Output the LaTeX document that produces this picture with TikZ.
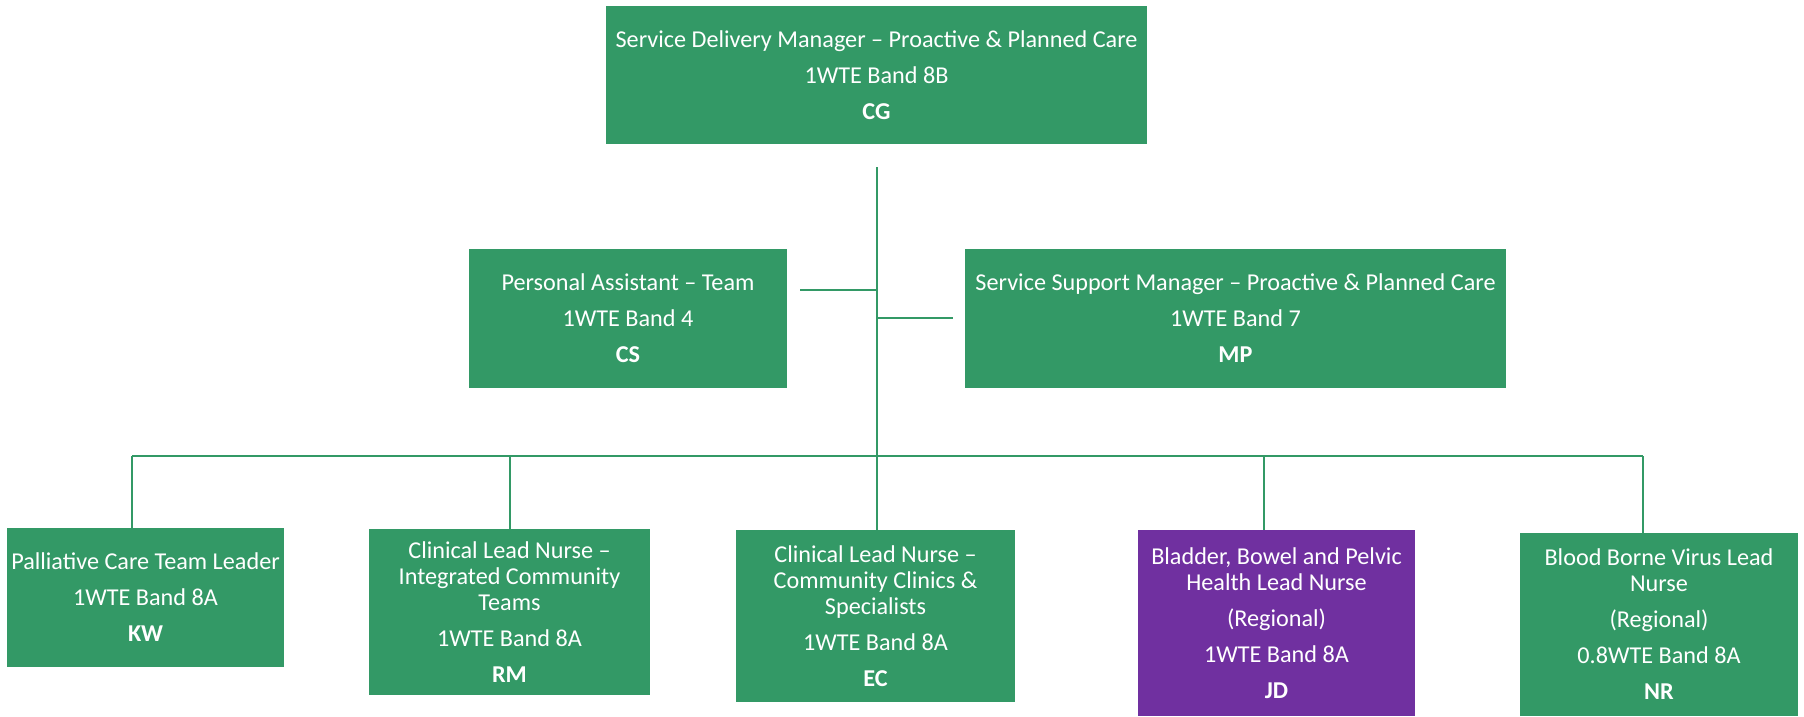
\documentclass[tikz,border=0pt]{standalone}
\usepackage{fontspec}
\setmainfont{Carlito}
\usepackage{tikz}
\definecolor{orggreen}{HTML}{339966}
\definecolor{orgpurple}{HTML}{7030A0}

\begin{document}
\begin{tikzpicture}[x=0.5pt, y=-0.5pt,
    post/.style={fill=orggreen, text=white, align=center, inner sep=0pt,
      font=\fontsize{12.1}{13}\selectfont},
    link/.style={draw=orggreen, line width=1pt}]
\useasboundingbox (0,0) rectangle (1804,717);
\node[post, minimum width=270.5pt, minimum height=69pt] (sdm) at (876.5,75)
    {Service Delivery Manager – Proactive \& Planned Care\\[5pt]1WTE Band 8B\\[5pt]\textbf{CG}};
\node[post, minimum width=159pt, minimum height=69.5pt] (pa) at (628,318.5)
    {Personal Assistant – Team\\[5pt]1WTE Band 4\\[5pt]\textbf{CS}};
\node[post, minimum width=270.5pt, minimum height=69.5pt] (ssm) at (1235.5,318.5)
    {Service Support Manager – Proactive \& Planned Care\\[5pt]1WTE Band 7\\[5pt]\textbf{MP}};
\node[post, minimum width=138.5pt, minimum height=69.5pt] (kw) at (145.5,597.5)
    {Palliative Care Team Leader\\[5pt]1WTE Band 8A\\[5pt]\textbf{KW}};
\node[post, minimum width=140.5pt, minimum height=83pt] (rm) at (509.5,612)
    {Clinical Lead Nurse –\\Integrated Community\\Teams\\[5pt]1WTE Band 8A\\[5pt]\textbf{RM}};
\node[post, minimum width=139.5pt, minimum height=86pt] (ec) at (875.5,616)
    {Clinical Lead Nurse –\\Community Clinics \&\\Specialists\\[5pt]1WTE Band 8A\\[5pt]\textbf{EC}};
\node[post, fill=orgpurple, minimum width=138.5pt, minimum height=93pt] (jd) at (1276.5,623)
    {Bladder, Bowel and Pelvic\\Health Lead Nurse\\[5pt](Regional)\\[5pt]1WTE Band 8A\\[5pt]\textbf{JD}};
\node[post, minimum width=139pt, minimum height=91.5pt] (nr) at (1659,624.5)
    {Blood Borne Virus Lead\\Nurse\\[5pt](Regional)\\[5pt]0.8WTE Band 8A\\[5pt]\textbf{NR}};
\coordinate (trunk) at (877,167);
\coordinate (bus) at (877,456);
\coordinate (paend) at (800,290);
\coordinate (ssmend) at (953,318);
\coordinate (dropkw) at (132,456);
\coordinate (droprm) at (510,456);
\coordinate (dropjd) at (1264,456);
\coordinate (dropnr) at (1643,456);
\draw[link] (trunk) -- (bus);
\draw[link] (paend) -- (paend -| trunk);
\draw[link] (ssmend -| trunk) -- (ssmend);
\draw[link] (dropkw) -- (dropnr);
\draw[link] (dropkw) -- (dropkw |- kw.north);
\draw[link] (droprm) -- (droprm |- rm.north);
\draw[link] (bus) -- (bus |- ec.north);
\draw[link] (dropjd) -- (dropjd |- jd.north);
\draw[link] (dropnr) -- (dropnr |- nr.north);
\end{tikzpicture}
\end{document}
